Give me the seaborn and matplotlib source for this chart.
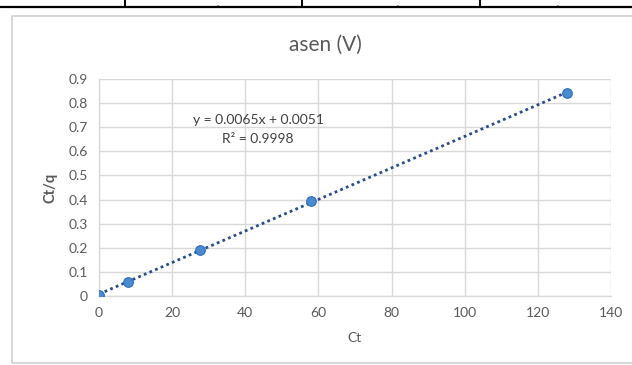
import numpy as np
import pandas as pd
import matplotlib
matplotlib.use("Agg")
import matplotlib.pyplot as plt
from matplotlib.lines import Line2D
from matplotlib.patches import Rectangle
import seaborn as sb

# data
ct = [0, 8, 27.5, 58, 128]
ct_q = [0.005, 0.058, 0.19, 0.394, 0.842]
x_ticks = [0, 20, 40, 60, 80, 100, 120, 140]
y_ticks = [0, 0.1, 0.2, 0.3, 0.4, 0.5, 0.6, 0.7, 0.8, 0.9]
y_tick_labels = ["0", "0.1", "0.2", "0.3", "0.4", "0.5", "0.6", "0.7", "0.8", "0.9"]
title = "asen (V)"
equation = "y = 0.0065x + 0.0051"
r_squared = "R² = 0.9998"

df = pd.DataFrame({"Ct": ct, "Ct/q": ct_q})

sb.set_theme(style="whitegrid")
plt.rcParams["font.family"] = ["Lato", "DejaVu Sans"]

W, H = 632, 365
fig = plt.figure(figsize=(W / 100, H / 100), dpi=100)
fig.patch.set_facecolor("white")

# bits of the table above the chart
fig.add_artist(Line2D([0, 1], [1 - 6.5 / H, 1 - 6.5 / H], color="black", lw=1.6))
for xv in [125, 302, 480]:
    fig.add_artist(Line2D([xv / W, xv / W], [1 - 6.5 / H, 1], color="black", lw=1.4))
for xv in [217, 397, 557]:
    fig.text(xv / W, 1 - 0.2 / H, ",", fontsize=6, ha="center", va="top", color="#222222")

# chart frame
fig.add_artist(Rectangle((12 / W, 1 - 363 / H), (W + 10 - 12) / W, (363 - 16) / H,
                         transform=fig.transFigure, fill=False, edgecolor="#D0D0D0", lw=1.2))

ax = fig.add_axes([99 / W, 1 - 296 / H, (611 - 99) / W, (296 - 79) / H])
ax.set_facecolor("white")

sb.regplot(data=df, x="Ct", y="Ct/q", ax=ax, ci=None, truncate=True,
           scatter_kws=dict(s=48, color="#4A8AD0", edgecolor="#2F6CB5", linewidths=0.8, zorder=4, alpha=1),
           line_kws=dict(color="#2B4C8C", lw=2.0, linestyle=(0, (1, 1.2)), zorder=3))

ax.set_xlim(0, 140)
ax.set_ylim(0, 0.9)
ax.set_xticks(x_ticks)
ax.set_yticks(y_ticks)
ax.set_yticklabels(y_tick_labels)
ax.grid(True, color="#D9D9D9", lw=1.0)
for side in ["top", "right"]:
    ax.spines[side].set_visible(False)
for side in ["left", "bottom"]:
    ax.spines[side].set_color("#D9D9D9")
    ax.spines[side].set_linewidth(1.0)
ax.tick_params(axis="both", labelsize=10, colors="#595959", length=0, pad=8)
ax.set_xlabel("Ct", fontsize=10, color="#595959", labelpad=9)
ax.set_ylabel("Ct/q", fontsize=10.5, color="#595959", fontweight="bold", labelpad=8)

fig.text(325 / W, 1 - 45 / H, title, fontsize=15, color="#595959", ha="center", va="center")
ax.text(43.5, 0.73, equation, fontsize=10, color="#404040", ha="center", va="center")
ax.text(43.5, 0.651, r_squared, fontsize=10, color="#404040", ha="center", va="center")

fig.savefig("out.png", dpi=100)
